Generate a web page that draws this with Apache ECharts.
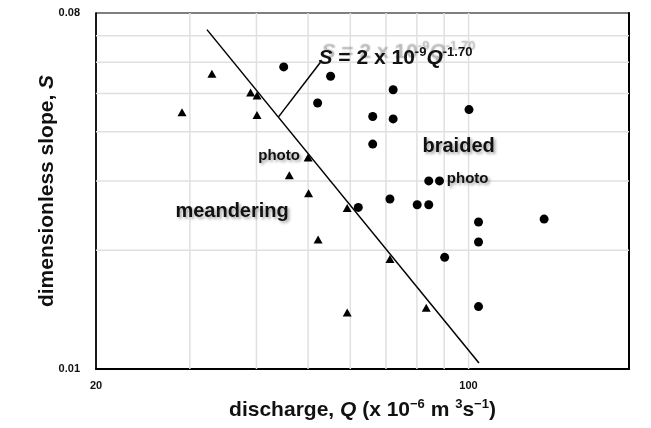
<!DOCTYPE html>
<html>
<head>
<meta charset="utf-8">
<script src="https://cdn.jsdelivr.net/npm/echarts@6/dist/echarts.min.js"></script>
<style>html,body{margin:0;padding:0;background:#fff;}#c{width:651px;height:428px;}</style>
</head>
<body>
<div id="c"></div>
<script>
// meandering channels (triangles)
var meanderQ = [29.0, 33.0, 39.0, 40.1, 40.1, 50.0, 46.1, 50.1, 59.2, 52.2, 71.2, 59.2, 83.3];
var meanderS = [0.0448, 0.0561, 0.0503, 0.0494, 0.0441, 0.0344, 0.0310, 0.0279, 0.0256, 0.0213, 0.0190, 0.0139, 0.0143];
// braided channels (circles)
var braidedQ = [45.0, 55.1, 52.1, 72.2, 66.1, 72.2, 100.2, 66.1, 84.2, 88.2, 71.2, 62.1, 80.1, 84.2, 104.4, 104.4, 138.6, 90.2, 104.4];
var braidedS = [0.0584, 0.0553, 0.0473, 0.0511, 0.0437, 0.0431, 0.0455, 0.0372, 0.0300, 0.0300, 0.0270, 0.0257, 0.0261, 0.0261, 0.0236, 0.0210, 0.0240, 0.0192, 0.0144];
// threshold line S = 2e-9 Q^-1.70 (as drawn)
var thresholdQ = [32.3, 104.6];
var thresholdS = [0.0726, 0.01036];
// leader from equation to line
var leaderQ = [44.0, 52.7];
var leaderS = [0.0436, 0.0599];
// axis ranges, grid values and tick labels
var xRange = [20, 200];
var yRange = [0.01, 0.08];
var gridQ = [30, 40, 50, 60, 70, 80, 90, 100];
var gridS = [0.02, 0.03, 0.04, 0.05, 0.06, 0.07];
var xTicks = [20, 100];
var yTicks = [0.01, 0.08];
// annotations
var noteText = ['meandering', 'braided', 'photo', 'photo'];
var noteQ = [36.0, 95.8, 44.1, 99.6];
var noteS = [0.02507, 0.0367, 0.03474, 0.0303];
var eqQ = 52.3, eqS = 0.0615;

function zip(a, b) { return a.map(function (v, i) { return [v, b[i]]; }); }

var FF = 'Liberation Sans, Arial, sans-serif';
function st(o) { var r = { fontFamily: FF, fontWeight: 'bold', color: '#111' }; for (var k in o) r[k] = o[k]; return r; }
var ghost = { textShadowColor: 'rgba(150,150,150,0.7)', textShadowBlur: 1.5, textShadowOffsetX: 3, textShadowOffsetY: -6 };
function g(o) { var r = st(o); for (var k in ghost) r[k] = ghost[k]; return r; }

var gridSeries = gridQ.map(function (q) {
  return { type: 'line', data: [[q, yRange[0]], [q, yRange[1]]], symbol: 'none', silent: true, z: 1,
    lineStyle: { color: '#e0e0e0', width: 1.5 } };
}).concat(gridS.map(function (s) {
  return { type: 'line', data: [[xRange[0], s], [xRange[1], s]], symbol: 'none', silent: true, z: 1,
    lineStyle: { color: '#e0e0e0', width: 1.5 } };
}));

var chart = echarts.init(document.getElementById('c'), null, { renderer: 'canvas' });
chart.setOption({
  animation: false,
  backgroundColor: '#fff',
  grid: { left: 96, right: 22, top: 13, bottom: 59, show: true, borderColor: '#000', borderWidth: 1.2 },
  xAxis: [{
    type: 'log', logBase: 10, min: xRange[0], max: xRange[1],
    axisLine: { show: true, lineStyle: { color: '#000', width: 2 } },
    axisTick: { show: false },
    splitLine: { show: false },
    axisLabel: { customValues: xTicks, margin: 11, fontFamily: FF, fontWeight: 'bold', fontSize: 11, color: '#111' },
    name: '{b|discharge, }{i|Q}{b| (x 10}{sup|−6}{b| m }{sup|3}{b|s}{sup|−1}{b|)}',
    nameLocation: 'middle', nameGap: 29, nameMoveOverlap: false,
    nameTextStyle: { rich: {
      b: st({ fontSize: 21, lineHeight: 25 }),
      i: st({ fontSize: 21, fontStyle: 'italic', lineHeight: 25 }),
      sup: st({ fontSize: 13, lineHeight: 25, verticalAlign: 'top' })
    } }
  }],
  yAxis: [{
    type: 'log', logBase: 10, min: yRange[0], max: yRange[1],
    axisLine: { show: true, lineStyle: { color: '#000', width: 1.5 } },
    axisTick: { show: false },
    splitLine: { show: false },
    axisLabel: { customValues: yTicks, margin: 16, fontFamily: FF, fontWeight: 'bold', fontSize: 11, color: '#111',
      formatter: function (v) { return (Math.round(v * 100) / 100).toFixed(2); } },
    name: '{b|dimensionless slope, }{i|S}',
    nameLocation: 'middle', nameGap: 38, nameMoveOverlap: false,
    nameTextStyle: { rich: {
      b: st({ fontSize: 21 }),
      i: st({ fontSize: 21, fontStyle: 'italic' })
    } }
  }, {
    type: 'log', logBase: 10, min: yRange[0], max: yRange[1], position: 'right',
    axisLine: { show: true, lineStyle: { color: '#000', width: 2 } },
    axisTick: { show: false }, axisLabel: { show: false }, splitLine: { show: false }
  }],
  series: gridSeries.concat([
    {
      type: 'line', data: zip(thresholdQ, thresholdS), z: 3, symbol: 'none', silent: true,
      lineStyle: { color: '#000', width: 1.5 }
    },
    {
      type: 'line', data: zip(leaderQ, leaderS), z: 3, symbol: 'none', silent: true,
      lineStyle: { color: '#000', width: 1.5 }
    },
    {
      type: 'scatter', data: zip(meanderQ, meanderS), symbol: 'triangle', symbolSize: [9, 8], z: 4,
      itemStyle: { color: '#000', opacity: 1 }
    },
    {
      type: 'scatter', data: zip(braidedQ, braidedS), symbol: 'circle', symbolSize: 9, z: 4,
      itemStyle: { color: '#000', opacity: 1 }
    },
    {
      type: 'scatter', symbolSize: 0, z: 5, silent: true,
      itemStyle: { color: '#000', opacity: 1 },
      data: noteText.map(function (t, i) {
        return { value: [noteQ[i], noteS[i]], label: { formatter: t, fontSize: t === 'photo' ? 15 : 20 } };
      }),
      label: { show: true, position: [0, 0], align: 'center', verticalAlign: 'middle', opacity: 1,
        fontFamily: FF, fontWeight: 'bold', color: '#111',
        textShadowColor: 'rgba(0,0,0,0.35)', textShadowBlur: 3, textShadowOffsetX: 2, textShadowOffsetY: 2 }
    },
    {
      type: 'scatter', symbolSize: 0, z: 5, silent: true,
      itemStyle: { color: '#000', opacity: 1 },
      data: [[eqQ, eqS]],
      label: { show: true, position: [0, 0], align: 'left', verticalAlign: 'middle', opacity: 1,
        formatter: '{i|S}{b| = 2 x 10}{sup|-9}{i|Q}{sup|-1.70}',
        rich: {
          b: g({ fontSize: 21, lineHeight: 24 }),
          i: g({ fontSize: 21, fontStyle: 'italic', lineHeight: 24 }),
          sup: g({ fontSize: 13, lineHeight: 24, verticalAlign: 'top' })
        } }
    }
  ])
});
</script>
</body>
</html>
